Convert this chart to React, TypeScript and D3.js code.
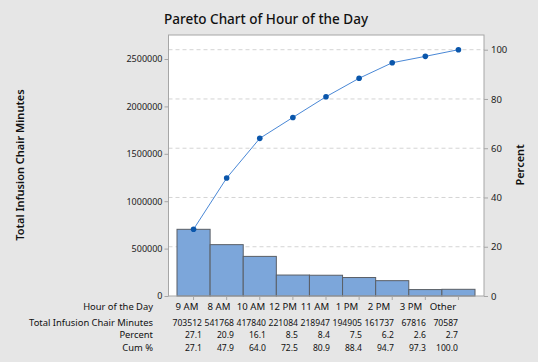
import { useEffect, useRef } from "react";
import * as d3 from "d3";

const categories = ["9 AM", "8 AM", "10 AM", "12 PM", "11 AM", "1 PM", "2 PM", "3 PM", "Other"];
const minutes = [703512, 541768, 417840, 221084, 218947, 194905, 161737, 67816, 70587];
const percent = ["27.1", "20.9", "16.1", "8.5", "8.4", "7.5", "6.2", "2.6", "2.7"];
const cumPercent = [27.1, 47.9, 64.0, 72.5, 80.9, 88.4, 94.7, 97.3, 100.0];
const leftTicks = [0, 500000, 1000000, 1500000, 2000000, 2500000];
const rightTicks = [0, 20, 40, 60, 80, 100];

const width = 538;
const height = 362;
const font = "'Noto Sans', 'Open Sans', sans-serif";

export default function App() {
  const svgRef = useRef<SVGSVGElement>(null);

  useEffect(() => {
    if (!svgRef.current) return;
    const svg = d3.select(svgRef.current);
    svg.selectAll("*").remove();

    const plot = { left: 168.5, right: 484, top: 35, bottom: 296 };
    const total = d3.sum(minutes);

    svg.append("rect").attr("width", width).attr("height", height).attr("fill", "#e6e6e6");
    svg
      .append("rect")
      .attr("x", plot.left)
      .attr("y", plot.top)
      .attr("width", plot.right - plot.left)
      .attr("height", plot.bottom - plot.top)
      .attr("fill", "white");

    const x = d3
      .scaleBand<string>()
      .domain(categories)
      .range([177, 475])
      .paddingInner(0)
      .paddingOuter(0);

    // 100% of the right axis equals the total of the left axis
    const yPct = d3.scaleLinear().domain([0, 100]).range([plot.bottom, 49.7]);
    const y = d3.scaleLinear().domain([0, total]).range([plot.bottom, 49.7]);

    // gridlines
    svg
      .append("g")
      .selectAll("line")
      .data(rightTicks.filter((d) => d > 0))
      .enter()
      .append("line")
      .attr("x1", plot.left)
      .attr("x2", plot.right)
      .attr("y1", (d) => yPct(d))
      .attr("y2", (d) => yPct(d))
      .attr("stroke", "#d4d4d4")
      .attr("stroke-dasharray", "4,3");

    // bars
    svg
      .append("g")
      .selectAll("rect")
      .data(minutes)
      .enter()
      .append("rect")
      .attr("x", (_, i) => x(categories[i])!)
      .attr("y", (d) => y(d))
      .attr("width", x.bandwidth())
      .attr("height", (d) => plot.bottom - y(d))
      .attr("fill", "#7ca6da")
      .attr("stroke", "#5a5f66")
      .attr("stroke-width", 1);

    // cumulative line
    const line = d3
      .line<number>()
      .x((_, i) => x(categories[i])! + x.bandwidth() / 2)
      .y((d) => yPct(d));
    svg
      .append("path")
      .datum(cumPercent)
      .attr("d", line)
      .attr("fill", "none")
      .attr("stroke", "#4a88d6")
      .attr("stroke-width", 1);
    svg
      .append("g")
      .selectAll("circle")
      .data(cumPercent)
      .enter()
      .append("circle")
      .attr("cx", (_, i) => x(categories[i])! + x.bandwidth() / 2)
      .attr("cy", (d) => yPct(d))
      .attr("r", 2.8)
      .attr("fill", "#0a56ab");

    // frame
    svg
      .append("rect")
      .attr("x", plot.left)
      .attr("y", plot.top)
      .attr("width", plot.right - plot.left)
      .attr("height", plot.bottom - plot.top)
      .attr("fill", "none")
      .attr("stroke", "#a6a6a6");

    // left axis
    const left = svg
      .append("g")
      .attr("transform", `translate(${plot.left},0)`)
      .call(d3.axisLeft(y).tickValues(leftTicks).tickSize(4).tickPadding(2).tickFormat(d3.format("d")));
    left.select(".domain").remove();
    left.selectAll("line").attr("stroke", "#a6a6a6");
    left.selectAll("text").attr("font-family", font).attr("font-size", 9).attr("fill", "#222");

    // right axis
    const right = svg
      .append("g")
      .attr("transform", `translate(${plot.right},0)`)
      .call(d3.axisRight(yPct).tickValues(rightTicks).tickSize(4).tickPadding(3));
    right.select(".domain").remove();
    right.selectAll("line").attr("stroke", "#a6a6a6");
    right.selectAll("text").attr("font-family", font).attr("font-size", 9.5).attr("fill", "#222");

    // bottom ticks
    const bottom = svg
      .append("g")
      .attr("transform", `translate(0,${plot.bottom})`)
      .call(d3.axisBottom(x).tickSize(4).tickFormat(() => ""));
    bottom.select(".domain").remove();
    bottom.selectAll("line").attr("stroke", "#a6a6a6");

    // title and axis labels
    svg
      .append("text")
      .attr("x", 164)
      .attr("y", 24)
      .attr("font-family", font)
      .attr("font-size", 13.5)
      .attr("font-weight", 500)
      .attr("fill", "#111")
      .text("Pareto Chart of Hour of the Day");
    svg
      .append("text")
      .attr("transform", `translate(24,165) rotate(-90)`)
      .attr("text-anchor", "middle")
      .attr("font-family", font)
      .attr("font-size", 11)
      .attr("font-weight", 600)
      .attr("fill", "#111")
      .text("Total Infusion Chair Minutes");
    svg
      .append("text")
      .attr("transform", `translate(524,165) rotate(-90)`)
      .attr("text-anchor", "middle")
      .attr("font-family", font)
      .attr("font-size", 11)
      .attr("font-weight", 600)
      .attr("fill", "#111")
      .text("Percent");

    // table under chart
    const col = d3.scaleLinear().domain([0, categories.length - 1]).range([202, 458]);
    const rows: { label: string; values: string[]; y: number; center: boolean }[] = [
      { label: "Hour of the Day", values: categories, y: 309.5, center: true },
      { label: "Total Infusion Chair Minutes", values: minutes.map(String), y: 325.5, center: false },
      { label: "Percent", values: percent, y: 338, center: false },
      { label: "Cum %", values: cumPercent.map((d) => d.toFixed(1)), y: 350.5, center: false },
    ];
    const table = svg.append("g").attr("font-family", font).attr("fill", "#111");
    rows.forEach((row) => {
      table
        .append("text")
        .attr("x", 153)
        .attr("y", row.y)
        .attr("text-anchor", "end")
        .attr("font-size", 9.4)
        .text(row.label);
      table
        .selectAll(null)
        .data(row.values)
        .enter()
        .append("text")
        .attr("x", (_, i) => (row.center ? col(i) - 15 : col(i)))
        .attr("y", row.y)
        .attr("text-anchor", row.center ? "middle" : "end")
        .attr("font-size", row.center ? 9.6 : 8.6)
        .text((d) => d);
    });
  }, []);

  return (
    <svg
      ref={svgRef}
      width={width}
      height={height}
      style={{ position: "absolute", left: 0, top: 0 }}
    />
  );
}
